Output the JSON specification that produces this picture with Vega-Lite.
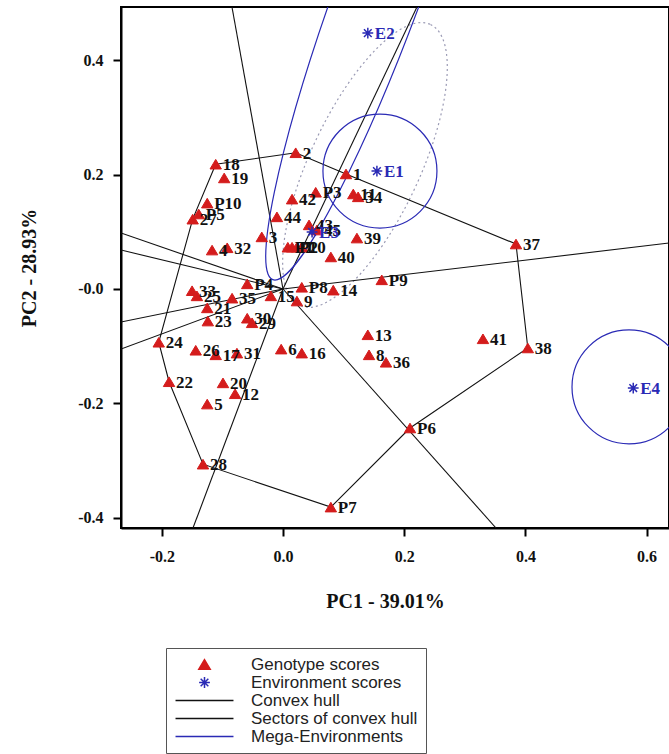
{
  "$schema": "https://vega.github.io/schema/vega-lite/v6.json",
  "width": 548,
  "height": 521,
  "autosize": {"type": "none"},
  "padding": {"left": 121, "top": 7, "right": 0, "bottom": 226},
  "background": "white",
  "config": {
    "view": {"stroke": "#000000", "strokeWidth": 2},
    "axis": {
      "grid": false,
      "domainColor": "#000000",
      "domainWidth": 2,
      "tickColor": "#000000",
      "tickWidth": 2,
      "tickSize": 8,
      "labelFont": "Liberation Serif",
      "labelFontWeight": "bold",
      "labelFontSize": 16,
      "labelColor": "#111111",
      "labelFlush": false,
      "labelOverlap": false,
      "titleFont": "Liberation Serif",
      "titleFontWeight": "bold",
      "titleFontSize": 20,
      "titleColor": "#111111"
    }
  },
  "datasets": {
    "geno": [
      {"name": "1", "pc1": 0.104, "pc2": 0.201},
      {"name": "2", "pc1": 0.021, "pc2": 0.238},
      {"name": "3", "pc1": -0.035, "pc2": 0.091},
      {"name": "4", "pc1": -0.117, "pc2": 0.068},
      {"name": "5", "pc1": -0.125, "pc2": -0.201},
      {"name": "6", "pc1": -0.003, "pc2": -0.105},
      {"name": "7", "pc1": 0.023, "pc2": 0.073},
      {"name": "8", "pc1": 0.142, "pc2": -0.115},
      {"name": "9", "pc1": 0.023, "pc2": -0.021},
      {"name": "10", "pc1": 0.031, "pc2": 0.073},
      {"name": "11", "pc1": 0.116, "pc2": 0.166},
      {"name": "12", "pc1": -0.079, "pc2": -0.183},
      {"name": "13", "pc1": 0.140, "pc2": -0.080},
      {"name": "14", "pc1": 0.083, "pc2": -0.002},
      {"name": "15", "pc1": -0.020, "pc2": -0.012},
      {"name": "16", "pc1": 0.031, "pc2": -0.112},
      {"name": "17", "pc1": -0.111, "pc2": -0.115},
      {"name": "18", "pc1": -0.111, "pc2": 0.218},
      {"name": "19", "pc1": -0.097, "pc2": 0.194},
      {"name": "20", "pc1": -0.099, "pc2": -0.164},
      {"name": "21", "pc1": -0.125, "pc2": -0.033},
      {"name": "22", "pc1": -0.188, "pc2": -0.162},
      {"name": "23", "pc1": -0.124, "pc2": -0.056},
      {"name": "24", "pc1": -0.205, "pc2": -0.093},
      {"name": "25", "pc1": -0.142, "pc2": -0.012},
      {"name": "26", "pc1": -0.144, "pc2": -0.107},
      {"name": "27", "pc1": -0.149, "pc2": 0.122},
      {"name": "28", "pc1": -0.132, "pc2": -0.306},
      {"name": "29", "pc1": -0.051, "pc2": -0.059},
      {"name": "30", "pc1": -0.059, "pc2": -0.051},
      {"name": "31", "pc1": -0.076, "pc2": -0.112},
      {"name": "32", "pc1": -0.092, "pc2": 0.072},
      {"name": "33", "pc1": -0.150, "pc2": -0.003},
      {"name": "34", "pc1": 0.124, "pc2": 0.161},
      {"name": "35", "pc1": -0.084, "pc2": -0.016},
      {"name": "36", "pc1": 0.170, "pc2": -0.128},
      {"name": "37", "pc1": 0.3845, "pc2": 0.0786},
      {"name": "38", "pc1": 0.404, "pc2": -0.103},
      {"name": "39", "pc1": 0.122, "pc2": 0.089},
      {"name": "40", "pc1": 0.079, "pc2": 0.056},
      {"name": "41", "pc1": 0.330, "pc2": -0.087},
      {"name": "42", "pc1": 0.015, "pc2": 0.157},
      {"name": "43", "pc1": 0.043, "pc2": 0.112},
      {"name": "44", "pc1": -0.010, "pc2": 0.126},
      {"name": "45", "pc1": 0.056, "pc2": 0.103},
      {"name": "P1", "pc1": 0.008, "pc2": 0.073},
      {"name": "P2", "pc1": 0.015, "pc2": 0.073},
      {"name": "P3", "pc1": 0.054, "pc2": 0.169},
      {"name": "P4", "pc1": -0.059, "pc2": 0.009},
      {"name": "P5", "pc1": -0.139, "pc2": 0.131},
      {"name": "P6", "pc1": 0.2096, "pc2": -0.2428},
      {"name": "P7", "pc1": 0.079, "pc2": -0.381},
      {"name": "P8", "pc1": 0.031, "pc2": 0.003},
      {"name": "P9", "pc1": 0.163, "pc2": 0.016},
      {"name": "P10", "pc1": -0.125, "pc2": 0.150}
    ],
    "env": [
      {"name": "E1", "pc1": 0.155, "pc2": 0.206},
      {"name": "E2", "pc1": 0.140, "pc2": 0.447},
      {"name": "E3", "pc1": 0.048, "pc2": 0.0996},
      {"name": "E4", "pc1": 0.578, "pc2": -0.173}
    ],
    "hull": [
      {"i": 1, "pc1": -0.111, "pc2": 0.218},
      {"i": 2, "pc1": 0.021, "pc2": 0.238},
      {"i": 3, "pc1": 0.104, "pc2": 0.201},
      {"i": 4, "pc1": 0.3845, "pc2": 0.0786},
      {"i": 5, "pc1": 0.404, "pc2": -0.103},
      {"i": 6, "pc1": 0.2096, "pc2": -0.2428},
      {"i": 7, "pc1": 0.079, "pc2": -0.381},
      {"i": 8, "pc1": -0.132, "pc2": -0.306},
      {"i": 9, "pc1": -0.188, "pc2": -0.162},
      {"i": 10, "pc1": -0.205, "pc2": -0.093},
      {"i": 11, "pc1": -0.149, "pc2": 0.122},
      {"i": 12, "pc1": -0.111, "pc2": 0.218}
    ],
    "sectors": [
      {"pc1": -0.0842, "pc2": 0.4926},
      {"pc1": 0.2211, "pc2": 0.4926},
      {"pc1": 0.637, "pc2": 0.0803},
      {"pc1": 0.3515, "pc2": -0.4175},
      {"pc1": -0.1485, "pc2": -0.4175},
      {"pc1": -0.2673, "pc2": 0.0978},
      {"pc1": -0.2673, "pc2": 0.0681},
      {"pc1": -0.2673, "pc2": -0.0576},
      {"pc1": -0.2673, "pc2": -0.1048}
    ],
    "mega": [
      {"id": "E1", "pc1": 0.160, "pc2": 0.206},
      {"id": "E4", "pc1": 0.571, "pc2": -0.171},
      {"id": "E2", "pc1": 0.165, "pc2": 0.5397},
      {"id": "dot", "pc1": 0.1353, "pc2": 0.2166}
    ]
  },
  "layer": [
    {
      "mark": {"type": "rule", "strokeDash": [2, 2], "strokeWidth": 1.2, "color": "#111111"},
      "encoding": {
        "x": {"datum": 0, "type": "quantitative",
          "scale": {"domain": [-0.2673, 0.637], "nice": false, "zero": false},
          "axis": {"values": [-0.2, 0, 0.2, 0.4, 0.6], "labelExpr": "(datum.value < 0 ? '-' : '') + format(abs(datum.value), '.1f')", "labelPadding": 12, "title": "PC1 - 39.01%", "titlePadding": 27, "titleX": 264}
        }
      }
    },
    {
      "mark": {"type": "rule", "strokeDash": [2, 2], "strokeWidth": 1.2, "color": "#111111"},
      "encoding": {
        "y": {"datum": 0, "type": "quantitative",
          "scale": {"domain": [-0.4175, 0.4926], "nice": false, "zero": false},
          "axis": {"values": [-0.4, -0.2, 0, 0.2, 0.4], "labelExpr": "datum.value == 0 ? '-0.0' : (datum.value < 0 ? '-' : '') + format(abs(datum.value), '.1f')", "labelPadding": 10, "title": "PC2 - 28.93%", "titlePadding": 38}
        }
      }
    },
    {
      "data": {"name": "mega"},
      "transform": [{"filter": "datum.id == 'dot'"}],
      "mark": {"type": "point", "clip": true, "filled": false, "opacity": 1,
        "shape": "M0,-1C0.196,-1,0.355,-0.552,0.355,0C0.355,0.552,0.196,1,0,1C-0.196,1,-0.355,0.552,-0.355,0C-0.355,-0.552,-0.196,-1,0,-1Z",
        "size": 96100, "angle": 25, "color": "#9a9ab4", "strokeWidth": 1.2, "strokeDash": [2, 3]},
      "encoding": {
        "x": {"field": "pc1", "type": "quantitative", "scale": {"domain": [-0.2673, 0.637], "nice": false, "zero": false}, "axis": {"values": [-0.2, 0, 0.2, 0.4, 0.6], "labelExpr": "(datum.value < 0 ? '-' : '') + format(abs(datum.value), '.1f')", "labelPadding": 12, "title": "PC1 - 39.01%", "titlePadding": 27, "titleX": 264}},
        "y": {"field": "pc2", "type": "quantitative", "scale": {"domain": [-0.4175, 0.4926], "nice": false, "zero": false}, "axis": {"values": [-0.4, -0.2, 0, 0.2, 0.4], "labelExpr": "datum.value == 0 ? '-0.0' : (datum.value < 0 ? '-' : '') + format(abs(datum.value), '.1f')", "labelPadding": 10, "title": "PC2 - 28.93%", "titlePadding": 38}}
      }
    },
    {
      "data": {"name": "sectors"},
      "mark": {"type": "rule", "clip": true, "color": "#111111", "strokeWidth": 1.1},
      "encoding": {
        "x": {"field": "pc1", "type": "quantitative", "scale": {"domain": [-0.2673, 0.637], "nice": false, "zero": false}, "axis": {"values": [-0.2, 0, 0.2, 0.4, 0.6], "labelExpr": "(datum.value < 0 ? '-' : '') + format(abs(datum.value), '.1f')", "labelPadding": 12, "title": "PC1 - 39.01%", "titlePadding": 27, "titleX": 264}},
        "y": {"field": "pc2", "type": "quantitative", "scale": {"domain": [-0.4175, 0.4926], "nice": false, "zero": false}, "axis": {"values": [-0.4, -0.2, 0, 0.2, 0.4], "labelExpr": "datum.value == 0 ? '-0.0' : (datum.value < 0 ? '-' : '') + format(abs(datum.value), '.1f')", "labelPadding": 10, "title": "PC2 - 28.93%", "titlePadding": 38}},
        "x2": {"datum": 0},
        "y2": {"datum": 0}
      }
    },
    {
      "data": {"name": "hull"},
      "mark": {"type": "line", "clip": true, "color": "#111111", "strokeWidth": 1.1},
      "encoding": {
        "x": {"field": "pc1", "type": "quantitative", "scale": {"domain": [-0.2673, 0.637], "nice": false, "zero": false}, "axis": {"values": [-0.2, 0, 0.2, 0.4, 0.6], "labelExpr": "(datum.value < 0 ? '-' : '') + format(abs(datum.value), '.1f')", "labelPadding": 12, "title": "PC1 - 39.01%", "titlePadding": 27, "titleX": 264}},
        "y": {"field": "pc2", "type": "quantitative", "scale": {"domain": [-0.4175, 0.4926], "nice": false, "zero": false}, "axis": {"values": [-0.4, -0.2, 0, 0.2, 0.4], "labelExpr": "datum.value == 0 ? '-0.0' : (datum.value < 0 ? '-' : '') + format(abs(datum.value), '.1f')", "labelPadding": 10, "title": "PC2 - 28.93%", "titlePadding": 38}},
        "order": {"field": "i", "type": "quantitative"}
      }
    },
    {
      "data": {"name": "mega"},
      "transform": [{"filter": "datum.id == 'E1' || datum.id == 'E4'"}],
      "mark": {"type": "point", "clip": true, "filled": false, "opacity": 1, "shape": "circle", "size": 12996, "color": "#2a2ab5", "strokeWidth": 1.2},
      "encoding": {
        "x": {"field": "pc1", "type": "quantitative", "scale": {"domain": [-0.2673, 0.637], "nice": false, "zero": false}, "axis": {"values": [-0.2, 0, 0.2, 0.4, 0.6], "labelExpr": "(datum.value < 0 ? '-' : '') + format(abs(datum.value), '.1f')", "labelPadding": 12, "title": "PC1 - 39.01%", "titlePadding": 27, "titleX": 264}},
        "y": {"field": "pc2", "type": "quantitative", "scale": {"domain": [-0.4175, 0.4926], "nice": false, "zero": false}, "axis": {"values": [-0.4, -0.2, 0, 0.2, 0.4], "labelExpr": "datum.value == 0 ? '-0.0' : (datum.value < 0 ? '-' : '') + format(abs(datum.value), '.1f')", "labelPadding": 10, "title": "PC2 - 28.93%", "titlePadding": 38}}
      }
    },
    {
      "data": {"name": "mega"},
      "transform": [{"filter": "datum.id == 'E2'"}],
      "mark": {"type": "point", "clip": true, "filled": false, "opacity": 1,
        "shape": "M0.152,0C-0.0468,0.5523,-0.276,1,-0.36,1C-0.444,1,-0.3508,0.5523,-0.152,0C0.0468,-0.5523,0.276,-1,0.36,-1C0.444,-1,0.3508,-0.5523,0.152,0Z",
        "size": 360000, "color": "#2a2ab5", "strokeWidth": 1.2},
      "encoding": {
        "x": {"field": "pc1", "type": "quantitative", "scale": {"domain": [-0.2673, 0.637], "nice": false, "zero": false}, "axis": {"values": [-0.2, 0, 0.2, 0.4, 0.6], "labelExpr": "(datum.value < 0 ? '-' : '') + format(abs(datum.value), '.1f')", "labelPadding": 12, "title": "PC1 - 39.01%", "titlePadding": 27, "titleX": 264}},
        "y": {"field": "pc2", "type": "quantitative", "scale": {"domain": [-0.4175, 0.4926], "nice": false, "zero": false}, "axis": {"values": [-0.4, -0.2, 0, 0.2, 0.4], "labelExpr": "datum.value == 0 ? '-0.0' : (datum.value < 0 ? '-' : '') + format(abs(datum.value), '.1f')", "labelPadding": 10, "title": "PC2 - 28.93%", "titlePadding": 38}}
      }
    },
    {
      "data": {"name": "geno"},
      "mark": {"type": "point", "filled": true, "opacity": 1, "size": 144, "strokeWidth": 1, "clip": true},
      "encoding": {
        "x": {"field": "pc1", "type": "quantitative", "scale": {"domain": [-0.2673, 0.637], "nice": false, "zero": false}, "axis": {"values": [-0.2, 0, 0.2, 0.4, 0.6], "labelExpr": "(datum.value < 0 ? '-' : '') + format(abs(datum.value), '.1f')", "labelPadding": 12, "title": "PC1 - 39.01%", "titlePadding": 27, "titleX": 264}},
        "y": {"field": "pc2", "type": "quantitative", "scale": {"domain": [-0.4175, 0.4926], "nice": false, "zero": false}, "axis": {"values": [-0.4, -0.2, 0, 0.2, 0.4], "labelExpr": "datum.value == 0 ? '-0.0' : (datum.value < 0 ? '-' : '') + format(abs(datum.value), '.1f')", "labelPadding": 10, "title": "PC2 - 28.93%", "titlePadding": 38}},
        "fill": {
          "datum": "Genotype scores", "type": "nominal",
          "scale": {
            "domain": ["Genotype scores", "Environment scores", "Convex hull", "Sectors of convex hull", "Mega-Environments"],
            "range": ["#d41c1c", "#2a2ab5", "#111111", "#111111", "#2a2ab5"]
          },
          "legend": {"orient": "none", "legendX": 45, "legendY": 641, "title": null, "padding": 8, "strokeColor": "#555555", "fillColor": "white", "labelFont": "Liberation Sans", "labelFontSize": 17, "labelColor": "#222222", "labelLimit": 400, "symbolSize": 144, "symbolStrokeWidth": 1.5, "symbolOpacity": 1, "symbolOffset": 22, "labelOffset": 38, "rowPadding": 0, "labelExpr": "datum.label + '\u00a0\u00a0\u00a0\u00a0\u00a0'"}
        },
        "stroke": {
          "datum": "Genotype scores", "type": "nominal",
          "scale": {
            "domain": ["Genotype scores", "Environment scores", "Convex hull", "Sectors of convex hull", "Mega-Environments"],
            "range": ["#d41c1c", "#2a2ab5", "#111111", "#111111", "#2a2ab5"]
          },
          "legend": {"orient": "none", "legendX": 45, "legendY": 641, "title": null, "padding": 8, "strokeColor": "#555555", "fillColor": "white", "labelFont": "Liberation Sans", "labelFontSize": 17, "labelColor": "#222222", "labelLimit": 400, "symbolSize": 144, "symbolStrokeWidth": 1.5, "symbolOpacity": 1, "symbolOffset": 22, "labelOffset": 38, "rowPadding": 0, "labelExpr": "datum.label + '\u00a0\u00a0\u00a0\u00a0\u00a0'"}
        },
        "shape": {
          "datum": "Genotype scores", "type": "nominal",
          "scale": {
            "domain": ["Genotype scores", "Environment scores", "Convex hull", "Sectors of convex hull", "Mega-Environments"],
            "range": [
              "M0,-0.8L-0.95,0.8L0.95,0.8Z",
              "M0,-0.9L0,0.9M-0.9,0L0.9,0M-0.64,-0.64L0.64,0.64M-0.64,0.64L0.64,-0.64",
              "M-4.83,0L4.83,0",
              "M-4.83,0L4.83,0",
              "M-4.83,0L4.83,0"
            ]
          },
          "legend": {"orient": "none", "legendX": 45, "legendY": 641, "title": null, "padding": 8, "strokeColor": "#555555", "fillColor": "white", "labelFont": "Liberation Sans", "labelFontSize": 17, "labelColor": "#222222", "labelLimit": 400, "symbolSize": 144, "symbolStrokeWidth": 1.5, "symbolOpacity": 1, "symbolOffset": 22, "labelOffset": 38, "rowPadding": 0, "labelExpr": "datum.label + '\u00a0\u00a0\u00a0\u00a0\u00a0'"}
        }
      }
    },
    {
      "data": {"name": "env"},
      "mark": {"type": "point", "filled": true, "opacity": 1, "size": 144, "strokeWidth": 1.5, "clip": true},
      "encoding": {
        "x": {"field": "pc1", "type": "quantitative", "scale": {"domain": [-0.2673, 0.637], "nice": false, "zero": false}, "axis": {"values": [-0.2, 0, 0.2, 0.4, 0.6], "labelExpr": "(datum.value < 0 ? '-' : '') + format(abs(datum.value), '.1f')", "labelPadding": 12, "title": "PC1 - 39.01%", "titlePadding": 27, "titleX": 264}},
        "y": {"field": "pc2", "type": "quantitative", "scale": {"domain": [-0.4175, 0.4926], "nice": false, "zero": false}, "axis": {"values": [-0.4, -0.2, 0, 0.2, 0.4], "labelExpr": "datum.value == 0 ? '-0.0' : (datum.value < 0 ? '-' : '') + format(abs(datum.value), '.1f')", "labelPadding": 10, "title": "PC2 - 28.93%", "titlePadding": 38}},
        "fill": {"datum": "Environment scores", "type": "nominal"},
        "stroke": {"datum": "Environment scores", "type": "nominal"},
        "shape": {"datum": "Environment scores", "type": "nominal"}
      }
    },
    {
      "data": {"name": "geno"},
      "mark": {"type": "text", "align": "left", "baseline": "middle", "dx": 7, "dy": 1, "font": "Liberation Serif", "fontWeight": "bold", "fontSize": 17, "color": "#111111", "clip": true},
      "encoding": {
        "x": {"field": "pc1", "type": "quantitative", "scale": {"domain": [-0.2673, 0.637], "nice": false, "zero": false}, "axis": {"values": [-0.2, 0, 0.2, 0.4, 0.6], "labelExpr": "(datum.value < 0 ? '-' : '') + format(abs(datum.value), '.1f')", "labelPadding": 12, "title": "PC1 - 39.01%", "titlePadding": 27, "titleX": 264}},
        "y": {"field": "pc2", "type": "quantitative", "scale": {"domain": [-0.4175, 0.4926], "nice": false, "zero": false}, "axis": {"values": [-0.4, -0.2, 0, 0.2, 0.4], "labelExpr": "datum.value == 0 ? '-0.0' : (datum.value < 0 ? '-' : '') + format(abs(datum.value), '.1f')", "labelPadding": 10, "title": "PC2 - 28.93%", "titlePadding": 38}},
        "text": {"field": "name"}
      }
    },
    {
      "data": {"name": "env"},
      "mark": {"type": "text", "align": "left", "baseline": "middle", "dx": 7, "dy": 1, "font": "Liberation Serif", "fontWeight": "bold", "fontSize": 17, "color": "#2a2ab5", "clip": true},
      "encoding": {
        "x": {"field": "pc1", "type": "quantitative", "scale": {"domain": [-0.2673, 0.637], "nice": false, "zero": false}, "axis": {"values": [-0.2, 0, 0.2, 0.4, 0.6], "labelExpr": "(datum.value < 0 ? '-' : '') + format(abs(datum.value), '.1f')", "labelPadding": 12, "title": "PC1 - 39.01%", "titlePadding": 27, "titleX": 264}},
        "y": {"field": "pc2", "type": "quantitative", "scale": {"domain": [-0.4175, 0.4926], "nice": false, "zero": false}, "axis": {"values": [-0.4, -0.2, 0, 0.2, 0.4], "labelExpr": "datum.value == 0 ? '-0.0' : (datum.value < 0 ? '-' : '') + format(abs(datum.value), '.1f')", "labelPadding": 10, "title": "PC2 - 28.93%", "titlePadding": 38}},
        "text": {"field": "name"}
      }
    }
  ]
}
